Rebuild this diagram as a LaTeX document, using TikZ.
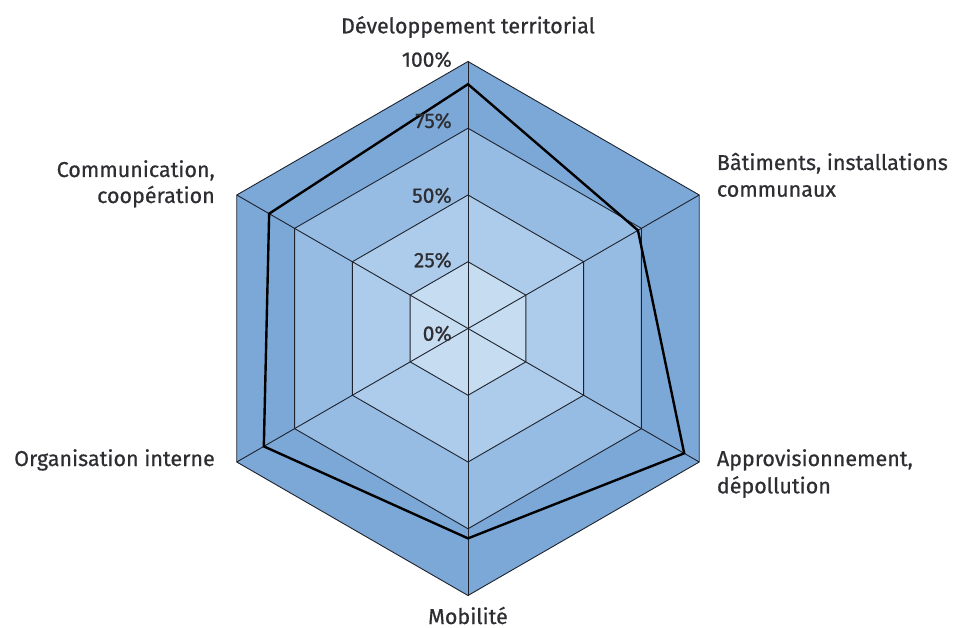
\documentclass[tikz,border=0pt]{standalone}
\usepackage{fontspec}
\setmainfont{Fira Sans}[FakeBold=0.6]
\definecolor{bandA}{RGB}{124,168,216}
\definecolor{bandB}{RGB}{150,188,228}
\definecolor{bandC}{RGB}{173,204,235}
\definecolor{bandD}{RGB}{198,220,241}
\definecolor{gridc}{RGB}{30,34,44}
\definecolor{txt}{RGB}{45,45,50}
\tikzset{
  lbl/.style={inner sep=0pt, text=txt, font=\fontsize{21.5}{26.5}\selectfont},
  pct/.style={inner sep=0pt, text=txt, font=\fontsize{21}{24}\selectfont, anchor=base east},
  gridline/.style={draw=gridc, line width=0.9pt, line join=miter},
  dataline/.style={draw=black, line width=2.4pt, line join=miter}
}
\def\R{267}
\begin{document}
\begin{tikzpicture}[x=1pt,y=1pt]
\useasboundingbox (-468,-299.5) rectangle (489,328.5);
\coordinate (O) at (0,0);
% filled bands
\foreach \f/\c in {1/bandA,0.75/bandB,0.5/bandC,0.25/bandD}{
  \fill[\c] (90:\f*\R) -- (30:\f*\R) -- (-30:\f*\R) -- (-90:\f*\R) -- (210:\f*\R) -- (150:\f*\R) -- cycle;
}
% ring outlines
\foreach \f in {1,0.75,0.5,0.25}{
  \draw[gridline] (90:\f*\R) -- (30:\f*\R) -- (-30:\f*\R) -- (-90:\f*\R) -- (210:\f*\R) -- (150:\f*\R) -- cycle;
}
% spokes
\foreach \a/\n in {90/t,30/ur,-30/lr,-90/b,210/ll,150/ul}{
  \coordinate (v\n) at (\a:\R);
  \draw[gridline] (O) -- (v\n);
}
% data
\coordinate (dt) at (90:0.915*\R);
\coordinate (dur) at (30:0.735*\R);
\coordinate (dlr) at (-30:0.935*\R);
\coordinate (db) at (-90:0.786*\R);
\coordinate (dll) at (210:0.883*\R);
\coordinate (dul) at (150:0.86*\R);
\draw[dataline] (dt) -- (dur) -- (dlr) -- (db) -- (dll) -- (dul) -- cycle;
% percentage labels
\node[pct] (p100) at (-16,261.8) {100\%};
\node[pct] (p75) at (-16,200.5) {75\%};
\node[pct] (p50) at (-16,125.8) {50\%};
\node[pct] (p25) at (-16,61.2) {25\%};
\node[pct] (p0) at (-16,-12.2) {0\%};
% axis labels
\node[lbl, anchor=base] (ldev) at (0,295.2) {Développement territorial};
\node[lbl, anchor=base east] (lcom1) at (-253,151.5) {Communication,};
\node[lbl, anchor=base east] (lcom2) at (-253,125.5) {coopération};
\node[lbl, anchor=base west] (lbat1) at (248.7,158.5) {Bâtiments, installations};
\node[lbl, anchor=base west] (lbat2) at (248.7,131.8) {communaux};
\node[lbl, anchor=base east] (lorg) at (-253,-137.5) {Organisation interne};
\node[lbl, anchor=base west] (lapp1) at (248.7,-137.5) {Approvisionnement,};
\node[lbl, anchor=base west] (lapp2) at (248.7,-164.8) {dépollution};
\node[lbl, anchor=base] (lmob) at (0,-295.5) {Mobilité};
\end{tikzpicture}
\end{document}
